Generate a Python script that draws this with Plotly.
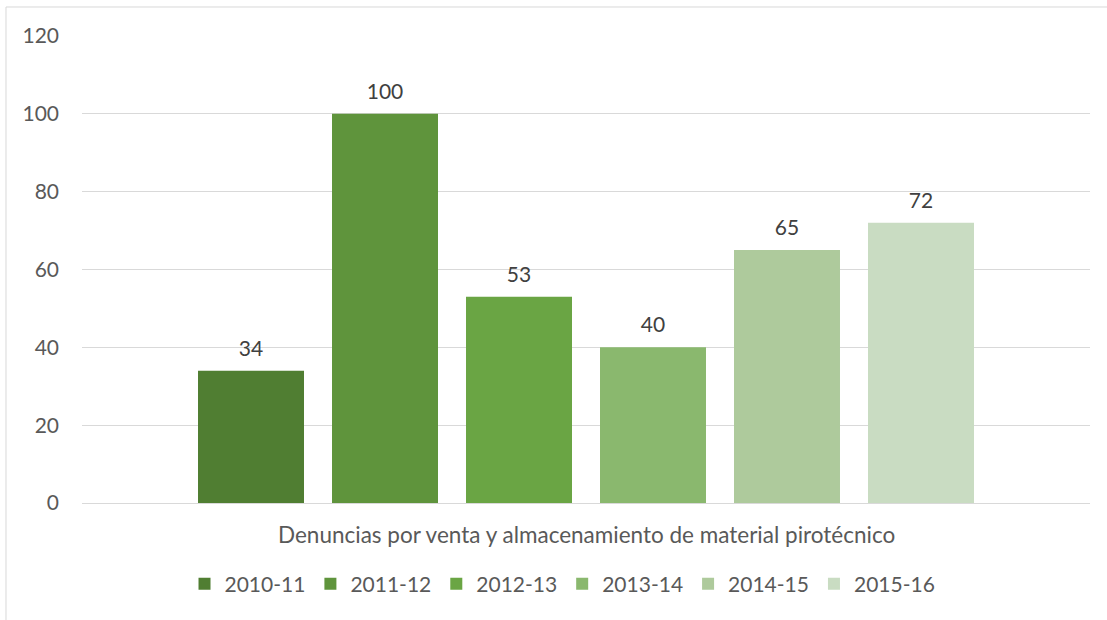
import plotly.graph_objects as go

category = ["Denuncias por venta y almacenamiento de material pirotécnico"]
series_names = ["2010-11", "2011-12", "2012-13", "2013-14", "2014-15", "2015-16"]
series_values = [34, 100, 53, 40, 65, 72]
colors = ["#507E32", "#5F943C", "#6AA544", "#8AB86E", "#AECA9C", "#C9DCC2"]
y_ticks = [0, 20, 40, 60, 80, 100, 120]

FONT = "Lato"
GAP = 0.2024
fig = go.Figure()
for name, val, col in zip(series_names, series_values, colors):
    fig.add_trace(go.Bar(
        x=category, y=[val], name=name, marker=dict(color=col, line=dict(width=0)),
        offsetgroup=name, legendgroup=name,
        hovertemplate=f"{name}: {val}<extra></extra>",
    ))
for name, val in zip(series_names, series_values):
    fig.add_trace(go.Scatter(
        x=category, y=[val], mode="markers+text", text=[str(val)],
        textposition="top center", offsetgroup=name, legendgroup=name,
        showlegend=False, cliponaxis=False, hoverinfo="skip",
        marker=dict(size=14, color="rgba(0,0,0,0)"),
        textfont=dict(family=FONT, size=21, color="#404040"),
    ))

fig.update_layout(
    width=1107, height=620,
    margin=dict(l=82, r=17, t=36, b=117),
    paper_bgcolor="white", plot_bgcolor="white",
    barmode="group", bargap=GAP, bargroupgap=0.209,
    scattermode="group", scattergap=GAP,
    font=dict(family=FONT, size=21, color="#595959"),
    showlegend=True,
    legend=dict(orientation="h", x=0.4767, xanchor="center",
                yref="container", y=0.058, yanchor="middle",
                font=dict(family=FONT, size=21, color="#595959"),
                itemwidth=30, tracegroupgap=0, traceorder="normal"),
    xaxis=dict(showticklabels=False, showline=False, showgrid=False, ticks="",
               automargin=False),
    yaxis=dict(range=[0, 120], tickvals=y_ticks, showgrid=True, gridcolor="#D9D9D9",
               gridwidth=1, zeroline=True, zerolinecolor="#D9D9D9", zerolinewidth=1,
               showline=False, ticks="", ticklabelstandoff=22, automargin=False,
               tickfont=dict(family=FONT, size=21, color="#595959")),
    annotations=[dict(text=category[0], xref="paper", yref="paper", x=0.5, y=-0.0664,
                      xanchor="center", yanchor="middle", showarrow=False,
                      font=dict(family=FONT, size=22.5, color="#595959"))],
    shapes=[dict(type="rect", xref="paper", yref="paper",
                 x0=-0.0754, x1=1.2, y0=-0.4, y1=1.0621,
                 line=dict(color="#D9D9D9", width=1), fillcolor="rgba(0,0,0,0)",
                 layer="below")],
)

fig.write_html("out.html")
